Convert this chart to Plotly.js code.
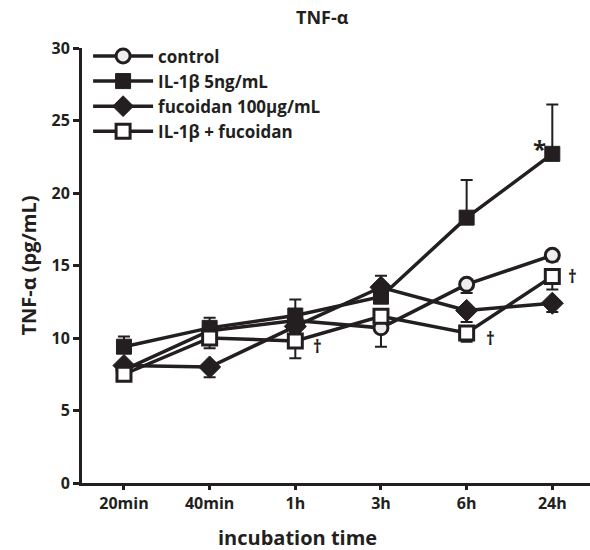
<!DOCTYPE html>
<html>
<head>
<meta charset="utf-8">
<script src="https://cdn.plot.ly/plotly-3.0.1.min.js"></script>
<style>html,body{margin:0;padding:0;background:#fff;}#chart{width:590px;height:550px;}</style>
</head>
<body>
<div id="chart"></div>
<script>
const categories = ["20min", "40min", "1h", "3h", "6h", "24h"];

const controlVals = [7.8, 10.5, 11.2, 10.7, 13.7, 15.7];
const controlErrUp = [0, 0, 0, 0, 0, 0];
const controlErrDown = [0.4, 0.4, 0.5, 1.3, 0.6, 0.4];

const il1bVals = [9.4, 10.7, 11.55, 12.85, 18.3, 22.7];
const il1bErrUp = [0.7, 0.7, 1.1, 0.6, 2.6, 3.4];
const il1bErrDown = [0, 0, 0, 0, 0, 0];

const fucoVals = [8.1, 8.0, 10.8, 13.5, 11.9, 12.4];
const fucoErrUp = [0, 0, 0, 0.8, 0, 0];
const fucoErrDown = [0.4, 0.7, 0.4, 0, 0.8, 0.6];

const comboVals = [7.5, 10.0, 9.8, 11.5, 10.35, 14.25];
const comboErrUp = [0, 0, 0, 0, 0, 0];
const comboErrDown = [0.3, 0.7, 1.2, 0.4, 0.6, 0.9];

const seriesNames = ["control", "IL-1β 5ng/mL", "fucoidan 100μg/mL", "IL-1β + fucoidan"];

const ink = "#231f20";
const FONT = "'Open Sans', sans-serif";

function mk(name, vals, up, down, symbol, fill, size, lw) {
  return {
    type: "scatter", mode: "lines+markers", name: name,
    x: categories, y: vals,
    line: {color: ink, width: 3.5},
    marker: {symbol: symbol, size: size, color: fill, line: {color: ink, width: lw}},
    error_y: {type: "data", symmetric: false, array: up, arrayminus: down,
              color: ink, thickness: 2, width: 6},
    cliponaxis: false
  };
}

const traces = [
  mk(seriesNames[0], controlVals, controlErrUp, controlErrDown, "circle", "#eeeeee", 14, 3),
  mk(seriesNames[1], il1bVals, il1bErrUp, il1bErrDown, "square", ink, 15, 1),
  mk(seriesNames[2], fucoVals, fucoErrUp, fucoErrDown, "diamond", ink, 17, 1),
  mk(seriesNames[3], comboVals, comboErrUp, comboErrDown, "square", "#ffffff", 14, 3)
];

const layout = {
  width: 590, height: 550,
  margin: {l: 82, r: 0, t: 48, b: 67},
  paper_bgcolor: "#fff", plot_bgcolor: "#fff",
  font: {family: FONT, color: ink},
  showlegend: true,
  legend: {x: 0.012, y: 1.022, xanchor: "left", yanchor: "top",
           font: {family: FONT, size: 17, color: ink, weight: "bold"},
           itemwidth: 60,
           bgcolor: "rgba(0,0,0,0)", tracegroupgap: 0},
  title: {text: "<b>TNF-α</b>", xref: "container", x: 296 / 590, xanchor: "left",
          yref: "container", y: 1 - 18 / 550, yanchor: "middle", pad: {l: 0, r: 0, t: 0, b: 0},
          font: {family: FONT, size: 18, color: ink}},
  xaxis: {
    type: "category", range: [-0.49, 5.44],
    showline: true, linecolor: ink, linewidth: 3,
    ticks: "outside", ticklen: 4, tickwidth: 3, tickcolor: ink,
    showgrid: false, zeroline: false,
    tickfont: {family: FONT, size: 16, color: ink, weight: "bold"}
  },
  yaxis: {
    range: [0, 30], tickvals: [0, 5, 10, 15, 20, 25, 30],
    showline: true, linecolor: ink, linewidth: 3,
    ticks: "outside", ticklen: 6, tickwidth: 3, tickcolor: ink,
    showgrid: false, zeroline: false,
    tickfont: {family: FONT, size: 16, color: ink, weight: "bold"},
    title: {text: "<b>TNF-α (pg/mL)</b>", font: {family: FONT, size: 20, color: ink}, standoff: 10}
  },
  annotations: [
    {xref: "paper", yref: "paper", x: (297 - 82) / 508, y: -0.125, xanchor: "center", yanchor: "middle",
     text: "<b>incubation time</b>", showarrow: false, font: {family: FONT, size: 20, color: ink}},
    {x: "24h", y: 22.7, xref: "x", yref: "y", text: "<b>*</b>", showarrow: false,
     xshift: -13, yshift: 5, font: {family: FONT, size: 24, color: ink}},
    {x: "24h", y: 14.25, xref: "x", yref: "y", text: "<b>†</b>", showarrow: false,
     xshift: 20, yshift: 0, font: {family: FONT, size: 17, color: ink}},
    {x: "1h", y: 9.8, xref: "x", yref: "y", text: "<b>†</b>", showarrow: false,
     xshift: 22, yshift: -6, font: {family: FONT, size: 17, color: ink}},
    {x: "6h", y: 10.35, xref: "x", yref: "y", text: "<b>†</b>", showarrow: false,
     xshift: 24, yshift: -6, font: {family: FONT, size: 17, color: ink}}
  ]
};

Plotly.newPlot("chart", traces, layout, {displayModeBar: false, staticPlot: true});
</script>
</body>
</html>
